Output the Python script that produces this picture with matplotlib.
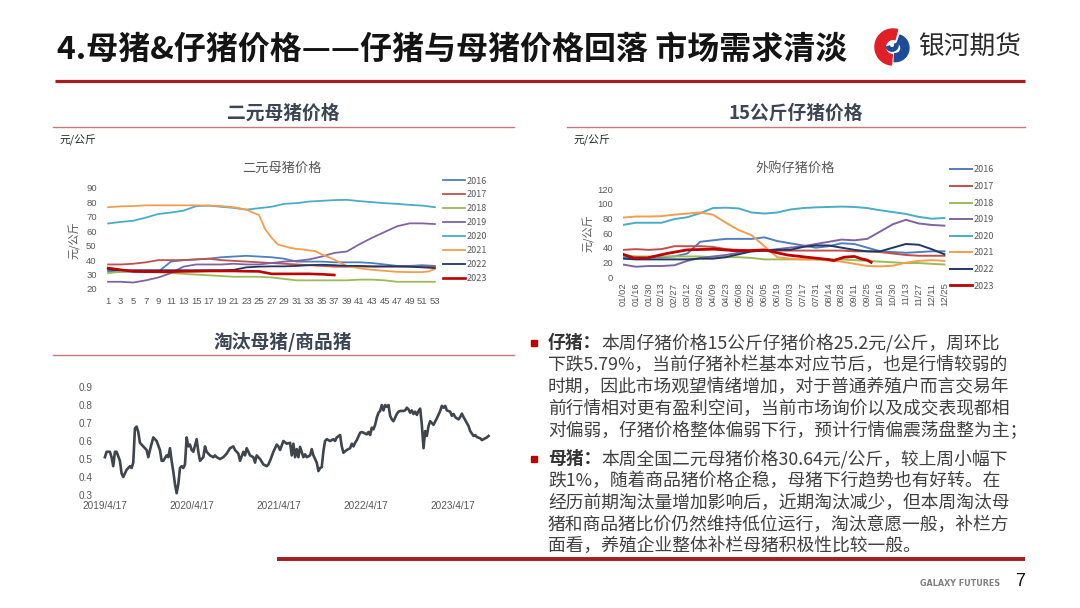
import matplotlib
matplotlib.use("Agg")
import matplotlib.pyplot as plt
from matplotlib.patches import Rectangle, Wedge
import numpy as np
import pandas as pd

plt.rcParams['font.family'] = ['Noto Sans CJK SC', 'DejaVu Sans']

W, H = 1080, 608

years = ['2016', '2017', '2018', '2019', '2020', '2021', '2022', '2023']
year_colors = ['#4f7fbd', '#c0504d', '#9bbb59', '#8064a2', '#4bacc6', '#f59d4f', '#1f3864', '#c00000']

# 二元母猪价格 (元/公斤), by week of year
sow_weeks = list(range(1, 54, 2))
sow_2016 = [32, 32, 32, 32, 32, 39, 40, 40.5, 41, 42, 42.5, 43, 42.5, 42, 41, 39, 39, 39, 38.5, 38.5, 38.5, 38, 37, 36, 36, 36.5, 36]
sow_2017 = [37, 37, 37.5, 38.5, 40, 40, 40, 40.5, 41, 40, 39.5, 39, 38.5, 38, 37.5, 37, 36.5, 36, 35.5, 35.5, 35.5, 35.5, 35.5, 35.5, 35.5, 35.5, 35.5]
sow_2018 = [31, 32, 32.5, 32, 31.5, 31, 30.5, 30, 29.5, 29, 28.5, 28.5, 28.5, 28, 27, 26, 26, 26, 26, 26, 26.5, 26.5, 26, 25, 25, 25, 25]
sow_2019 = [25, 25, 24.5, 26, 28, 31, 35.5, 37, 37, 37, 37.5, 37, 37, 38, 39, 39.5, 40.5, 42.5, 45, 46, 51, 55.5, 59.5, 63.5, 65.5, 65.5, 65]
sow_2020 = [65.4, 66.5, 67.3, 69.5, 72, 73, 74.3, 77.4, 77.8, 77, 76.2, 75, 76, 77, 79, 79.5, 80.6, 81.1, 81.6, 81.8, 80.9, 80.2, 79.5, 79, 78.3, 77.8, 76.7]
sow_2021_weeks = [1, 3, 5, 7, 9, 11, 13, 15, 17, 19, 21, 23, 24, 25, 26, 27, 28, 29, 30, 31, 32, 33, 34, 35, 36,
                  37, 38, 39, 40, 41, 42, 43, 45, 47, 49, 51, 52, 53]
sow_2021 = [76.7, 77.3, 77.5, 78, 78, 78, 78, 78, 77.8, 77.5, 76.7, 75, 73, 71.3, 61.4, 55.6, 50.9, 49.7, 48.5, 47.8,
            47.4, 46.7, 46.2, 43.9, 42.2, 40.4, 38, 36.1, 35.2, 34.3, 33.8, 33.3, 32.6, 31.9, 31.7, 31.7, 32.2, 33.8]
sow_2022 = [33.3, 33, 33, 33, 33, 33, 33, 33, 33, 33, 33.3, 35, 35.5, 35.7, 35.7, 36, 36.5, 36.8, 36.5, 36, 36, 35.7, 35.7, 35.7, 35.5, 35, 34.5]
sow_2023_weeks = list(range(1, 38, 2))
sow_2023 = [34.5, 33.3, 32.2, 32, 32, 32, 32.2, 32.3, 32.5, 32.5, 32.5, 32.3, 32.2, 30.5, 30.5, 30.5, 30.5, 30.2, 29.7]

# 外购仔猪价格 (元/公斤), positions in units of the date labels
piglet_labels = ['01/02', '01/16', '01/30', '02/13', '02/27', '03/12', '03/26', '04/09', '04/23', '05/08',
                 '05/22', '06/05', '06/19', '07/03', '07/17', '07/31', '08/14', '08/28', '09/11', '09/25',
                 '10/16', '10/30', '11/13', '11/27', '12/11', '12/25']
piglet_pos = list(range(26))
piglet_2016 = [27, 27, 27, 27, 28, 32, 48, 50, 52, 52, 52, 54, 49, 46, 43, 40, 42, 46, 45, 40, 35, 34, 33, 34, 35, 35]
piglet_2017 = [37, 38, 37, 38, 42, 42, 42, 41, 38, 37, 36, 36, 36, 36, 36, 36, 36, 36, 35, 35, 34, 32, 30, 29, 29, 29]
piglet_2018 = [30, 28, 28, 28, 28, 28, 28, 27, 27, 27, 26, 24, 24, 24, 24, 24, 24, 24, 23, 22, 21, 20, 19, 19, 18, 17]
piglet_2019 = [17, 14, 15, 15, 16, 22, 26, 28, 30, 33, 35, 36, 38, 40, 42, 45, 48, 51, 50, 52, 62, 72, 78, 73, 71, 70]
piglet_2020 = [71, 74, 74, 74, 79, 81.5, 87, 94, 94.5, 93.5, 88, 86.5, 88, 92, 94, 95, 95.5, 96, 95.5, 94, 91, 88.5, 86, 82, 79.5, 80.5]
piglet_2021 = [81, 82.5, 82.5, 83, 85, 86.5, 88, 85, 74, 64, 57, 42, 27, 25, 24, 24, 22.5, 21, 18, 15, 14.5, 15.5, 19.5, 22, 23, 22]
piglet_2022 = [25, 24, 24, 24, 24, 24, 25, 25, 27, 31, 35, 36, 37, 37, 41, 43, 43, 40, 37, 35, 35, 40, 45, 44, 38, 31]
piglet_2023_pos = [0, 0.8, 1.9, 3.4, 5, 7.1, 8.6, 9.9, 11, 12, 12.8, 14.3, 15.9, 16.4, 17.2, 18, 18.5, 19, 19.3]
piglet_2023 = [31, 26, 26, 32, 37, 38, 36, 36, 37, 33, 30, 27, 24, 22.5, 27, 28, 25, 23, 20]

# 淘汰母猪/商品猪 ratio, weeks after 2019/4/17
ratio_start = '2019-04-17'
ratio_week = [0, 1, 3, 4, 5, 6, 7, 9, 10, 11, 13, 14, 15, 16, 17, 18, 19, 20, 21, 23, 25, 26, 27, 29, 31, 33, 34, 35,
              37, 38, 39, 40, 41, 42, 43, 44, 45, 46, 47, 48, 49, 50, 51, 52, 53, 55, 56, 57, 59, 60, 61, 63, 65, 66,
              67, 69, 71, 73, 75, 77, 78, 80, 81, 83, 84, 85, 87, 89, 90, 91, 93, 95, 97, 98, 99, 101, 103, 104,
              105, 107, 109, 111, 112, 113, 114, 115, 116, 117, 119, 120, 121, 123, 124, 125, 127, 128, 129, 130,
              131, 132, 133, 135, 136, 137, 138, 139, 141, 142, 143, 145, 147, 148, 149, 150, 151, 153, 154, 155,
              157, 158, 159, 160, 161, 162, 163, 164, 165, 166, 167, 168, 169, 170, 171, 172, 173, 175, 176, 177,
              179, 180, 181, 182, 183, 184, 185, 186, 187, 188, 189, 190, 191, 192, 193, 194, 195, 196, 197, 199,
              201, 202, 203, 204, 205, 207, 208, 209, 210, 211, 212, 213, 214, 215, 217, 218, 219, 221, 222, 223,
              225, 226, 227, 229, 230]
ratio_value = [0.51, 0.54, 0.54, 0.51, 0.46, 0.54, 0.54, 0.49, 0.42, 0.40, 0.44, 0.45, 0.46, 0.45, 0.48, 0.67, 0.68,
               0.65, 0.59, 0.57, 0.55, 0.51, 0.55, 0.62, 0.60, 0.55, 0.49, 0.49, 0.52, 0.51, 0.56, 0.49, 0.43, 0.36,
               0.31, 0.36, 0.45, 0.46, 0.45, 0.47, 0.62, 0.57, 0.58, 0.55, 0.54, 0.61, 0.54, 0.49, 0.51, 0.57, 0.54,
               0.52, 0.51, 0.52, 0.51, 0.50, 0.51, 0.53, 0.56, 0.57, 0.55, 0.53, 0.49, 0.54, 0.52, 0.56, 0.52, 0.51,
               0.48, 0.52, 0.50, 0.47, 0.46, 0.47, 0.49, 0.54, 0.58, 0.57,
               0.55, 0.60, 0.585, 0.59, 0.52, 0.585, 0.51, 0.555, 0.51, 0.567, 0.51, 0.526, 0.51, 0.52, 0.555, 0.52,
               0.48, 0.433, 0.45, 0.455, 0.545, 0.60, 0.61, 0.60, 0.605, 0.61, 0.60, 0.62, 0.633, 0.57, 0.535, 0.55,
               0.56, 0.585, 0.57, 0.59, 0.605, 0.646, 0.65, 0.646, 0.637, 0.65, 0.633, 0.674, 0.665, 0.69, 0.73,
               0.757, 0.767, 0.80, 0.77, 0.80, 0.79, 0.80, 0.74, 0.72, 0.71, 0.75, 0.763, 0.767, 0.767, 0.77, 0.785,
               0.776, 0.757, 0.77, 0.75, 0.763, 0.745, 0.767, 0.78, 0.69, 0.56, 0.655, 0.628, 0.683, 0.71, 0.70,
               0.69, 0.726, 0.767, 0.795, 0.785, 0.795, 0.77, 0.763, 0.74, 0.75, 0.733, 0.726, 0.72, 0.733, 0.752,
               0.733, 0.70, 0.683, 0.655, 0.628, 0.633, 0.622, 0.615, 0.605, 0.61, 0.62, 0.628]
ratio_tick_years = [2019, 2020, 2021, 2022, 2023]

title = '4.母猪&仔猪价格——仔猪与母猪价格回落 市场需求清淡'
para_piglet = ['本周仔猪价格15公斤仔猪价格25.2元/公斤，周环比',
               '下跌5.79%，当前仔猪补栏基本对应节后，也是行情较弱的',
               '时期，因此市场观望情绪增加，对于普通养殖户而言交易年',
               '前行情相对更有盈利空间，当前市场询价以及成交表现都相',
               '对偏弱，仔猪价格整体偏弱下行，预计行情偏震荡盘整为主；']
para_sow = ['本周全国二元母猪价格30.64元/公斤，较上周小幅下',
            '跌1%，随着商品猪价格企稳，母猪下行趋势也有好转。在',
            '经历前期淘汰量增加影响后，近期淘汰减少，但本周淘汰母',
            '猪和商品猪比价仍然维持低位运行，淘汰意愿一般，补栏方',
            '面看，养殖企业整体补栏母猪积极性比较一般。']

DARK_RED = '#a51c22'
HEAD_LINE = '#c8787a'
HEAD_COLOR = '#3b4654'
TICK_COLOR = '#595959'


def box(l, t, r, b):
    return [l / W, 1 - b / H, (r - l) / W, (b - t) / H]


def clean(ax):
    for s in ax.spines.values():
        s.set_visible(False)
    ax.tick_params(length=0, colors=TICK_COLOR)


fig = plt.figure(figsize=(W / 100, H / 100), dpi=100)

# overlay in pixel coordinates for the slide decoration
deco = fig.add_axes([0, 0, 1, 1])
deco.set_xlim(0, W)
deco.set_ylim(H, 0)
deco.axis('off')

deco.text(57, 50, title, fontsize=23, fontweight='bold', color='#141414', va='center', ha='left')
deco.plot([55, 1025], [81, 81], color=DARK_RED, lw=2.3, solid_capstyle='butt')
deco.text(918, 47, '银河期货', fontsize=18.5, color='#2b2b2b', va='center', ha='left')

for txt, cx, cy in [('二元母猪价格', 283, 113), ('15公斤仔猪价格', 796, 113), ('淘汰母猪/商品猪', 283, 342)]:
    deco.text(cx, cy, txt, fontsize=13.5, fontweight='bold', color=HEAD_COLOR, ha='center', va='center')
deco.plot([53, 514], [126.5, 126.5], color=HEAD_LINE, lw=1.0)
deco.plot([567, 1025], [126.5, 126.5], color=HEAD_LINE, lw=1.0)
deco.plot([53, 514], [354.5, 354.5], color=HEAD_LINE, lw=1.0)

deco.text(60, 140, '元/公斤', fontsize=7.8, color='#262626', va='center', ha='left')
deco.text(574, 140, '元/公斤', fontsize=7.8, color='#262626', va='center', ha='left')
deco.text(282, 168, '二元母猪价格', fontsize=9.5, color=TICK_COLOR, ha='center', va='center')
deco.text(795, 168, '外购仔猪价格', fontsize=9.5, color=TICK_COLOR, ha='center', va='center')
deco.text(74, 240, '元/公斤', fontsize=8, color=TICK_COLOR, rotation=90, ha='center', va='center')
deco.text(588, 233, '元/公斤', fontsize=8, color=TICK_COLOR, rotation=90, ha='center', va='center')

# text block
line_y = [343, 365, 387, 409, 431, 459, 481, 503, 525, 546]
TXT = '#404040'
for label, lines, y0 in [('仔猪：', para_piglet, 0), ('母猪：', para_sow, 5)]:
    deco.add_patch(Rectangle((530.5, line_y[y0] - 3.5), 6.5, 6.5, color='#c00000'))
    lab = deco.text(548, line_y[y0], label, fontsize=12.8, fontweight='bold', color='#333333',
                    va='center', ha='left')
    deco.annotate(lines[0], xy=(1, 0.5), xycoords=lab, fontsize=12.8, color=TXT, va='center', ha='left')
    for k, ln in enumerate(lines[1:], start=1):
        deco.text(548, line_y[y0 + k], ln, fontsize=12.8, color=TXT, va='center', ha='left')

deco.plot([277, 1025], [559, 559], color=DARK_RED, lw=2.8, solid_capstyle='butt')
deco.text(960, 583, 'GALAXY FUTURES', fontsize=5.8, fontweight='bold', color='#808080',
          family='DejaVu Sans', ha='center', va='center')
deco.text(1020, 582, '7', fontsize=13, color='#111111', family='Liberation Sans', ha='center', va='center')

# logo: red and blue swirl
logo = fig.add_axes(box(872, 28, 914, 66))
logo.set_xlim(-1, 1)
logo.set_ylim(-1, 1)
logo.set_aspect('equal')
logo.axis('off')
logo.add_patch(Wedge((0.0, 0.0), 0.95, 75, 265, width=0.55, color='#e11f26'))
logo.add_patch(Wedge((0.12, -0.05), 0.72, -95, 70, width=0.42, color='#1d4b9c'))
logo.add_patch(Wedge((-0.05, 0.1), 0.32, 200, 20, width=0.18, color='#1d4b9c'))

# chart 1: 二元母猪价格
ax1 = fig.add_axes(box(105, 188, 438, 289))
sow_series = [(sow_weeks, sow_2016), (sow_weeks, sow_2017), (sow_weeks, sow_2018), (sow_weeks, sow_2019),
              (sow_weeks, sow_2020), (sow_2021_weeks, sow_2021), (sow_weeks, sow_2022), (sow_2023_weeks, sow_2023)]
for (xs, ys), yr, c in zip(sow_series, years, year_colors):
    ax1.plot(xs, ys, color=c, lw=1.9 if yr == '2023' else 1.3, label=yr)
ax1.set_xlim(0.5, 53.5)
ax1.set_ylim(20, 90)
ax1.set_xticks(range(1, 54, 2))
ax1.set_yticks(range(20, 91, 10))
clean(ax1)
ax1.tick_params(axis='x', pad=6)
ax1.tick_params(axis='y', pad=6)
for t in ax1.get_xticklabels() + ax1.get_yticklabels():
    t.set_fontfamily('Liberation Sans')
    t.set_fontsize(6.8)
ax1.legend(loc='upper left', bbox_to_anchor=(443 / W, 1 - 176.5 / H), bbox_transform=fig.transFigure,
           frameon=False, fontsize=6.5, handlelength=2.4, handletextpad=0.25, labelspacing=0.55,
           borderpad=0, borderaxespad=0, labelcolor=TICK_COLOR)

# chart 2: 外购仔猪价格
ax2 = fig.add_axes(box(623, 189, 947, 277))
piglet_series = [(piglet_pos, piglet_2016), (piglet_pos, piglet_2017), (piglet_pos, piglet_2018),
                 (piglet_pos, piglet_2019), (piglet_pos, piglet_2020), (piglet_pos, piglet_2021),
                 (piglet_pos, piglet_2022), (piglet_2023_pos, piglet_2023)]
for (xs, ys), yr, c in zip(piglet_series, years, year_colors):
    ax2.plot(xs, ys, color=c, lw=2.0 if yr == '2023' else 1.4, label=yr)
ax2.set_xlim(0, 25.2)
ax2.set_ylim(0, 120)
ax2.set_xticks(piglet_pos)
ax2.set_xticklabels(piglet_labels, rotation=90)
ax2.set_yticks(range(0, 121, 20))
clean(ax2)
ax2.tick_params(axis='x', pad=4)
ax2.tick_params(axis='y', pad=7)
for t in ax2.get_xticklabels() + ax2.get_yticklabels():
    t.set_fontfamily('Liberation Sans')
    t.set_fontsize(6.8)
ax2.legend(loc='upper left', bbox_to_anchor=(950 / W, 1 - 165.5 / H), bbox_transform=fig.transFigure,
           frameon=False, fontsize=6.5, handlelength=2.4, handletextpad=0.2, labelspacing=0.84,
           borderpad=0, borderaxespad=0, labelcolor=TICK_COLOR)

# chart 3: 淘汰母猪/商品猪
ax3 = fig.add_axes(box(98, 387, 500, 495))
ratio_dates = pd.Timestamp(ratio_start) + pd.to_timedelta(np.array(ratio_week) * 7, unit='D')
ax3.plot(ratio_dates, ratio_value, color='#3f444d', lw=1.9)
ax3.set_xlim(pd.Timestamp('2019-03-19'), pd.Timestamp('2023-10-31'))
ax3.set_ylim(0.3, 0.9)
ax3.set_yticks(np.arange(0.3, 0.91, 0.1))
ax3.set_yticklabels([f'{v:.1f}' for v in np.arange(0.3, 0.91, 0.1)])
ax3.set_xticks([pd.Timestamp(f'{y}-04-17') for y in ratio_tick_years])
ax3.set_xticklabels([f'{y}/4/17' for y in ratio_tick_years])
clean(ax3)
ax3.tick_params(axis='x', pad=4)
ax3.tick_params(axis='y', pad=4)
for t in ax3.get_xticklabels() + ax3.get_yticklabels():
    t.set_fontfamily('Liberation Sans')
    t.set_fontsize(7.2)

fig.savefig('out.png', dpi=100)
